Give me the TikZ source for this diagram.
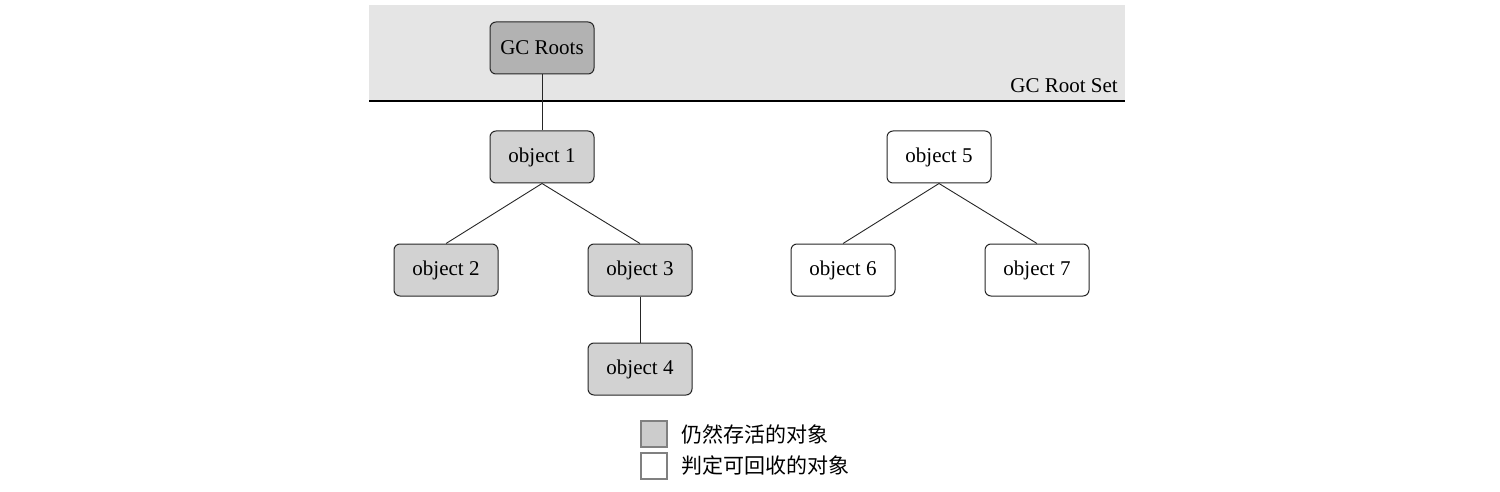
\documentclass[tikz,border=0pt]{standalone}
\usepackage{fontspec}
\setmainfont{Liberation Serif}
\newfontfamily\cjk{Noto Sans CJK SC}
\begin{document}
\begin{tikzpicture}[x=1pt,y=-1pt,
  obj/.style={draw=black!85,line width=1pt,rounded corners=6pt,minimum width=104pt,minimum height=52pt,inner sep=0pt,font=\fontsize{21}{24}\selectfont},
  live/.style={obj,fill=gray!35},
  root/.style={obj,fill=gray!60},
  dead/.style={obj,fill=white},
  edge/.style={draw=black!85,line width=0.9pt},
  legbox/.style={draw=gray,line width=1.2pt,minimum width=26pt,minimum height=26pt,inner sep=0pt},
  legtext/.style={anchor=west,inner sep=0pt,font=\cjk\fontsize{21}{24}\selectfont}]
\useasboundingbox (0,0) rectangle (1500,492);
\fill[gray!20] (369,5) rectangle (1125,101);
\draw[line width=1.4pt] (369,101) -- (1125,101);
\node[anchor=base east,inner sep=0pt,font=\fontsize{21}{24}\selectfont] (setlabel) at (1118,93) {GC Root Set};
\node[root] (gc) at (542,48) {GC Roots};
\node[live] (o1) at (542,157) {object 1};
\node[live] (o2) at (446,270) {object 2};
\node[live] (o3) at (640,270) {object 3};
\node[live] (o4) at (640,369) {object 4};
\node[dead] (o5) at (939,157) {object 5};
\node[dead] (o6) at (843,270) {object 6};
\node[dead] (o7) at (1037,270) {object 7};
\draw[edge] (gc) -- (o1);
\draw[edge] (o1.south) -- (o2.north);
\draw[edge] (o1.south) -- (o3.north);
\draw[edge] (o3) -- (o4);
\draw[edge] (o5.south) -- (o6.north);
\draw[edge] (o5.south) -- (o7.north);
\node[legbox,fill=gray!40] (l1) at (654,434) {};
\node[legbox,fill=white] (l2) at (654,466) {};
\node[legtext] (t1) at (681,434) {仍然存活的对象};
\node[legtext] (t2) at (681,466) {判定可回收的对象};
\end{tikzpicture}
\end{document}
